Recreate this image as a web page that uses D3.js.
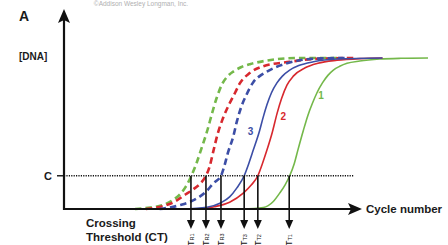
<!DOCTYPE html>
<html lang="en">
<head>
<meta charset="UTF-8" />
<title>Crossing threshold</title>
<script src="https://d3js.org/d3.v7.min.js"></script>
<style>
  body { margin: 0; background: #fff; font-family: "Liberation Sans", Arial, sans-serif; }
  svg { display: block; }
  .lbl { font-weight: bold; fill: #1a1a1a; }
</style>
</head>
<body>
<div id="chart"></div>
<script>
// [cycle, relative DNA amount]
const greenDashed = [[7.8,0],[9.5,1],[10.8,2.5],[12.0,6],[12.8,10],[13.4,15],[14.0,22],[14.6,31],[15.1,40],[15.7,51],[16.3,64],[16.8,74],[17.4,83],[18.0,88],[18.6,91],[19.5,94],[20.5,96],[22.0,98],[25.6,100],[30,100]];
const redDashed = [[9.0,0],[10.9,2],[12.2,5],[13.2,9],[14.2,13],[15.0,17],[15.6,22],[16.0,28],[16.4,38],[16.9,50],[17.4,59],[18.2,70],[18.8,77],[19.3,83],[20.4,90],[21.9,94.5],[24.8,97.5],[27.8,99.5],[32,100]];
const blueDashed = [[10.5,0],[12.7,2.5],[14.6,7],[15.7,12],[16.4,17],[17.25,22],[17.6,28],[18.0,37],[18.6,48],[19.0,58],[19.5,68],[20.0,75],[20.8,84],[21.5,88],[22.3,91],[23.3,94],[24.5,96.5],[27.4,99.5],[31,100]];
const blueSolid = [[13,0],[15.7,1.2],[17.2,4],[18.2,8],[19.0,14],[19.8,22],[20.3,30],[20.8,39],[21.5,52],[21.9,61],[22.3,69],[22.8,77],[23.4,83.5],[24.0,88],[24.8,92],[25.8,95],[27.4,97.5],[30,99.3],[35,100]];
const redSolid = [[14.5,0],[16.5,1.5],[18.2,4.5],[19.7,10.5],[20.6,16],[21.3,22],[21.8,30],[22.3,39],[22.9,51],[23.4,63],[23.9,73],[24.5,82],[25.2,88],[26.5,93.5],[27.9,96.5],[30.0,98.5],[32.5,99.6],[35,100]];
const greenSolid = [[19.5,0],[21.9,1],[23.0,5],[23.7,10.5],[24.3,16],[24.8,22],[25.3,30],[25.7,39],[26.3,52],[26.8,62],[27.3,70],[27.8,77],[28.4,83.5],[29.0,88.5],[29.6,92],[30.3,94.5],[31.1,96.5],[32.5,98],[34.7,99.3],[37,99.8],[40,100]];

const threshold = 22;
const ctCycles = [13.95, 15.6, 17.25, 19.8, 21.3, 24.75];
const ctLabels = ["R1", "R2", "R3", "T3", "T2", "T1"];
const curveNames = ["1", "2", "3"];
const curveNamePos = [[28.25, 73], [24.1, 59], [20.5, 49]];

const width = 448, height = 245;
const x = d3.scaleLinear().domain([0, 40]).range([64, 428]);
const y = d3.scaleLinear().domain([0, 100]).range([209, 58]);

const green = "#74b84a", red = "#d7282e", blue = "#3c4ea6";

const svg = d3.select("#chart").append("svg")
  .attr("width", width).attr("height", height);

const line = d3.line().x(d => x(d[0])).y(d => y(d[1])).curve(d3.curveMonotoneX);

// dashed curves (reference)
[[greenDashed, green], [redDashed, red], [blueDashed, blue]].forEach(([data, c]) => {
  svg.append("path").datum(data).attr("d", line)
    .attr("fill", "none").attr("stroke", c).attr("stroke-width", 2.6)
    .attr("stroke-dasharray", "6.5,4");
});
// solid curves (target)
[[greenSolid, green], [redSolid, red], [blueSolid, blue]].forEach(([data, c]) => {
  svg.append("path").datum(data).attr("d", line)
    .attr("fill", "none").attr("stroke", c).attr("stroke-width", 1.6);
});

// axes
const x0 = x.range()[0], yBase = y(0);
svg.append("line").attr("x1", x0).attr("x2", x0).attr("y1", yBase + 1).attr("y2", 20)
  .attr("stroke", "#111").attr("stroke-width", 2.2);
svg.append("path").attr("d", `M${x0},9 L${x0 - 6},23 L${x0},20 L${x0 + 6},23 Z`).attr("fill", "#111");
svg.append("line").attr("x1", x0 - 1).attr("x2", 352).attr("y1", yBase).attr("y2", yBase)
  .attr("stroke", "#111").attr("stroke-width", 2.2);
svg.append("path").attr("d", `M362,${yBase} L348,${yBase - 6} L351,${yBase} L348,${yBase + 6} Z`).attr("fill", "#111");

// threshold
const yT = y(threshold);
svg.append("line").attr("x1", x0).attr("x2", 354).attr("y1", yT).attr("y2", yT)
  .attr("stroke", "#111").attr("stroke-width", 1.5).attr("stroke-dasharray", "1.2,1.2");
svg.append("line").attr("x1", 57).attr("x2", x0).attr("y1", yT).attr("y2", yT)
  .attr("stroke", "#111").attr("stroke-width", 1.4);
svg.append("text").attr("class", "lbl").attr("x", 44).attr("y", yT + 4)
  .attr("font-size", 11).text("C");

// Ct arrows
ctCycles.forEach((c, i) => {
  const cx = x(c);
  svg.append("line").attr("x1", cx).attr("x2", cx).attr("y1", yT).attr("y2", 222)
    .attr("stroke", "#111").attr("stroke-width", 1.6);
  svg.append("path").attr("d", `M${cx},229 L${cx - 4},220 L${cx + 4},220 Z`).attr("fill", "#111");
  const t = svg.append("text").attr("transform", `translate(${cx + 3},246) rotate(-90)`)
    .attr("font-size", 9).attr("fill", "#111");
  t.append("tspan").text("T");
  t.append("tspan").attr("font-size", 5.5).text(ctLabels[i]);
});

// curve numbers
const numColors = [green, red, blue];
curveNames.forEach((n, i) => {
  svg.append("text").attr("x", x(curveNamePos[i][0])).attr("y", y(curveNamePos[i][1]))
    .attr("text-anchor", "middle").attr("font-size", 10).attr("font-weight", "bold")
    .attr("fill", numColors[i]).text(n);
});

// labels
svg.append("text").attr("class", "lbl").attr("x", 19).attr("y", 21).attr("font-size", 14).text("A");
svg.append("text").attr("class", "lbl").attr("x", 19).attr("y", 60).attr("font-size", 10).text("[DNA]");
svg.append("text").attr("class", "lbl").attr("x", 366).attr("y", 213).attr("font-size", 11.5).text("Cycle number");
svg.append("text").attr("class", "lbl").attr("x", 86).attr("y", 227).attr("font-size", 11.5).text("Crossing");
svg.append("text").attr("class", "lbl").attr("x", 86).attr("y", 241).attr("font-size", 11.5).text("Threshold (CT)");
svg.append("text").attr("x", 141).attr("y", 6).attr("text-anchor", "middle")
  .attr("font-size", 6.5).attr("fill", "#b0b0b0").text("©Addison Wesley Longman, Inc.");
</script>
</body>
</html>
